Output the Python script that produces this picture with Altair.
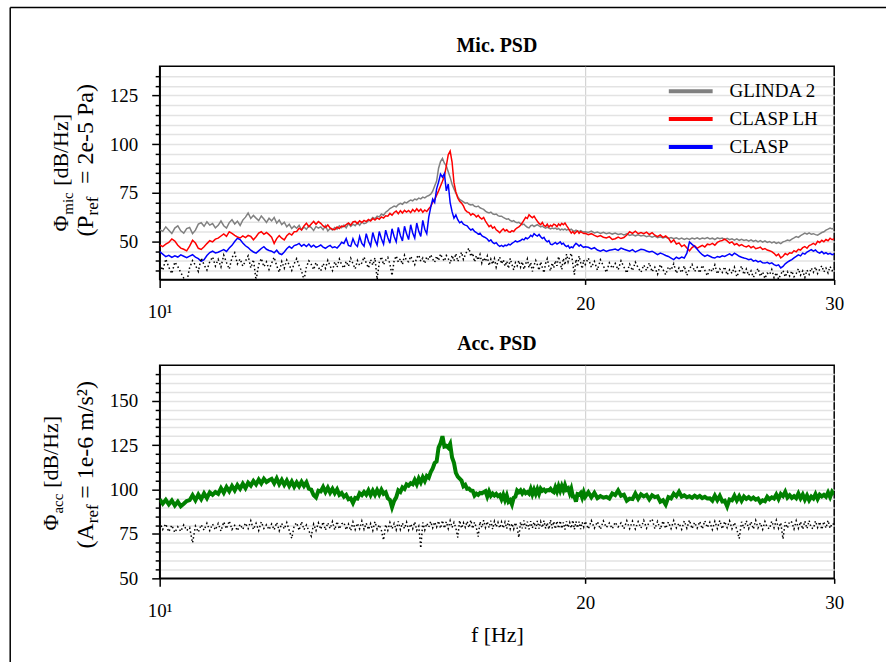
import altair as alt
import pandas as pd

FONT = "Liberation Serif"

# ---------------- data ----------------
# frequency grid [Hz]: 0.05 Hz steps from 10 to 19.95, 0.1 Hz steps from 20 to 30
freq_lo = [round(10 + 0.05 * i, 2) for i in range(200)]
freq_hi = [round(20 + 0.1 * i, 1) for i in range(101)]
freq = freq_lo + freq_hi

series_names = ["GLINDA 2", "CLASP LH", "CLASP"]
series_colors = ["#808080", "#ff0000", "#0000ff"]

glinda2_db = [
    56.0, 55.2, 57.5, 55.8, 54.1, 56.9, 58.0, 55.5, 54.3, 56.6,
    57.2, 54.0, 55.8, 58.9, 59.6, 57.8, 60.1, 58.4, 59.2, 57.0,
    58.3, 60.5, 58.1, 56.9, 59.7, 61.2, 59.0, 60.4, 58.2, 61.0,
    62.5, 64.6, 61.8, 63.4, 62.0, 60.7, 63.1, 61.5, 59.8, 61.9,
    60.6, 62.3, 59.4, 61.0, 58.7, 59.9, 57.5, 58.8, 56.6, 57.9,
    56.8, 58.3, 55.9, 57.4, 56.2, 58.0, 57.1, 55.6, 57.7, 56.9,
    57.5, 56.0, 58.1, 55.4, 56.7, 55.9, 57.2, 56.3, 58.0, 57.1,
    58.4, 57.0, 59.2, 57.8, 58.9, 58.1, 59.6, 58.3, 60.0, 59.1,
    59.5, 60.6, 61.0, 62.3, 61.7, 63.0, 62.6, 64.1, 63.5, 65.0,
    65.8, 66.9, 67.5, 68.2, 67.8, 69.0, 69.6, 69.1, 70.2, 69.8,
    70.6, 71.3, 70.9, 71.8, 71.4, 72.3, 71.9, 72.8, 72.4, 73.2,
    73.6, 74.3, 75.8, 78.5, 81.0, 87.6, 91.0, 92.7, 90.2, 88.8,
    85.8, 82.9, 79.4, 77.0, 74.8, 73.0, 71.6, 71.0, 70.3, 69.7,
    69.9, 69.1, 68.7, 69.0, 68.1, 67.8, 68.2, 67.3, 66.9, 66.5,
    65.6, 65.0, 64.7, 65.1, 64.2, 63.9, 64.1, 63.3, 62.9, 63.0,
    62.4, 61.9, 61.4, 61.6, 60.8, 60.3, 60.7, 59.9, 59.6, 59.8,
    59.2, 58.6, 58.9, 58.0, 57.3, 57.0, 58.1, 58.4, 57.7, 58.2,
    58.6, 58.0, 57.5, 57.9, 57.2, 56.8, 57.4, 56.9, 56.5, 56.9,
    56.6, 56.9, 56.2, 56.7, 55.9, 56.4, 56.0, 56.5, 55.8, 56.2,
    55.9, 56.3, 55.6, 55.2, 55.8, 55.4, 55.0, 55.6, 55.2, 54.9,
    55.0, 54.6, 55.3, 54.4, 54.9, 54.1, 54.7, 54.0, 54.5, 53.8,
    54.3, 53.6, 54.0, 53.3, 53.9, 53.1, 53.6, 52.9, 53.4, 52.8,
    53.2, 52.5, 52.9, 52.2, 52.8, 51.9, 52.4, 51.8, 52.3, 51.6,
    52.0, 51.4, 51.9, 51.2, 51.7, 51.0, 51.6, 51.1, 51.8, 51.3,
    51.9, 51.2, 51.8, 51.4, 52.0, 51.3, 51.7, 51.0, 51.9, 51.4,
    51.8, 51.1, 51.6, 50.9, 51.4, 50.7, 51.3, 50.6, 51.1, 50.5,
    50.9, 50.2, 50.8, 50.0, 50.6, 49.8, 50.4, 49.7, 50.3, 49.5,
    50.0, 49.3, 49.8, 49.0, 49.6, 48.9, 49.8, 50.2, 50.7, 50.4,
    51.2, 51.8, 52.5, 52.1, 53.0, 53.6, 54.3, 53.8, 54.4, 53.7,
    54.0, 53.5, 53.2, 53.9, 54.6, 55.0, 55.8, 56.3, 56.9, 56.4,
    57.0,
]

clasp_lh_db = [
    48.3, 47.4, 48.6, 49.5, 51.3, 50.2, 48.1, 46.6, 46.0, 45.2,
    47.6, 50.6, 49.2, 46.5, 45.9, 47.3, 48.9, 50.4, 49.8, 51.2,
    51.7, 52.8, 53.9, 52.6, 55.0, 54.2, 53.1, 52.3, 51.8, 52.9,
    52.0, 53.1, 52.6, 50.9, 52.4, 54.3, 55.0, 53.7, 54.6, 53.5,
    52.2, 49.0, 51.5, 53.0, 51.7, 50.8, 52.9, 54.1, 53.3, 55.0,
    55.1, 56.8, 55.9, 58.0, 59.4, 57.6, 59.0, 60.3, 58.8, 60.2,
    59.3, 58.0, 57.2, 58.5, 57.0, 56.3, 56.1, 57.4, 56.6, 57.9,
    57.6, 58.7, 59.5, 58.4, 60.0, 60.3, 59.2, 60.6, 59.7, 60.8,
    60.2, 61.3, 60.5, 61.8, 61.0, 62.1, 61.4, 62.6, 62.0, 63.2,
    63.0, 64.4, 63.5, 64.9, 65.6, 64.2, 65.8, 64.6, 66.0, 65.1,
    65.9, 64.8, 66.4, 65.3, 66.8, 65.5, 66.6, 65.0, 66.2, 65.4,
    66.8, 68.0, 70.2, 71.5, 73.8, 76.0, 78.5, 80.9, 83.5, 88.8,
    94.5, 96.4, 90.8, 80.2, 75.4, 72.3, 70.6, 69.7, 68.3, 66.1,
    65.2, 64.8, 63.5, 64.3, 63.7, 62.6, 63.4, 62.2, 61.5, 62.3,
    60.5, 59.0, 57.6, 58.3, 56.8, 57.5, 56.0, 55.3, 54.5, 55.6,
    56.5, 55.4, 56.0, 55.0, 54.8, 55.6, 55.1, 56.3, 57.0, 57.5,
    58.3, 59.6, 61.0, 62.4, 61.8, 63.7, 62.9, 62.2, 63.0, 61.6,
    60.4, 59.3, 58.6, 59.8, 58.2, 57.7, 58.9, 57.4, 58.3, 57.8,
    58.9, 58.5, 57.6, 59.0, 58.2, 59.3, 58.6, 59.5, 58.1, 57.0,
    55.6, 54.3, 55.1, 54.0, 54.8, 55.4, 54.2, 55.0, 54.5, 54.1,
    54.2, 53.5, 54.0, 53.1, 52.4, 53.0, 52.2, 51.8, 52.5, 51.0,
    51.4, 52.3, 51.5, 52.0, 53.3, 55.0, 54.2, 55.3, 54.0, 54.6,
    54.0, 54.8, 53.6, 54.5, 53.2, 52.5, 53.4, 52.1, 52.9, 51.7,
    49.6, 50.8, 48.7, 49.3, 47.4, 48.2, 46.6, 45.2, 46.9, 47.8,
    46.5, 47.3, 48.0, 47.2, 48.6, 48.3, 49.0, 48.1, 49.5, 50.2,
    50.5, 51.2, 50.3, 49.2, 49.8, 48.3, 48.9, 47.8, 48.4, 47.6,
    47.2, 47.9, 46.8, 47.5, 46.3, 46.6, 47.1, 45.9, 46.4, 45.6,
    45.2, 44.8, 43.9, 42.7, 43.5, 41.6, 42.4, 43.8, 43.1, 44.2,
    44.0, 45.3, 44.7, 46.0, 45.6, 46.8, 47.4, 46.5, 47.9, 48.4,
    49.0, 48.3, 50.1, 49.5, 50.6, 49.8, 51.0, 50.4, 51.7, 50.9,
    51.4,
]

clasp_db = [
    44.8, 43.5, 42.2, 42.9, 41.8, 42.6, 42.0, 43.1, 42.4, 41.7,
    42.5, 43.2, 42.0, 41.2, 39.8, 40.6, 42.8, 44.3, 45.0, 44.1,
    44.5, 45.2, 45.8, 44.9, 46.6, 48.0, 50.0, 51.6, 51.0, 49.2,
    47.8, 46.9, 45.5, 44.6, 44.0, 45.2, 46.4, 47.3, 46.0, 45.4,
    45.0, 44.2, 45.5, 43.8, 43.3, 44.6, 46.3, 47.4, 46.5, 47.9,
    48.3, 49.0, 47.6, 48.5, 47.4, 48.7, 47.2, 48.1, 47.0, 47.5,
    48.2, 47.1, 46.5, 47.4, 48.0, 46.8, 47.3, 46.6, 47.9, 49.6,
    49.0, 51.5, 48.0, 47.5, 51.4, 48.6, 47.4, 52.6, 49.0, 47.6,
    54.0, 50.1, 47.6, 54.6, 50.8, 48.2, 55.1, 51.4, 48.6, 55.8,
    52.0, 49.1, 56.5, 52.6, 49.8, 57.2, 53.1, 50.3, 57.8, 53.9,
    51.0, 58.6, 54.4, 51.8, 59.5, 55.2, 52.6, 60.8, 56.3, 54.0,
    62.5, 67.5, 71.8, 70.0, 77.0, 80.5, 84.6, 83.0, 84.8, 76.0,
    79.5, 70.0, 65.3, 62.0, 63.6, 61.2, 59.6, 60.2, 58.9, 58.4,
    58.0, 56.8, 55.9, 56.4, 55.2, 54.6, 53.8, 54.3, 53.0, 52.4,
    52.0, 51.3, 50.1, 50.8, 49.5, 48.9, 49.4, 48.2, 47.5, 48.0,
    47.4, 48.1, 47.8, 48.6, 48.2, 49.0, 49.6, 50.3, 49.8, 50.1,
    50.5, 51.2, 50.8, 51.9, 51.4, 52.0, 53.2, 52.5, 54.0, 53.3,
    52.8, 53.6, 52.4, 51.5, 52.1, 50.6, 49.8, 50.4, 48.6, 48.4,
    48.9, 49.5, 48.7, 49.2, 49.8, 48.6, 49.1, 48.0, 47.4, 47.9,
    46.6, 47.2, 46.8, 48.1, 49.1, 48.4, 47.6, 48.3, 47.5, 47.0,
    47.3, 47.0, 46.2, 46.8, 45.6, 45.0, 45.7, 44.9, 45.5, 45.8,
    46.1, 45.4, 46.6, 46.0, 45.5, 45.0, 45.8, 44.6, 45.3, 46.0,
    45.8, 45.1, 44.6, 45.0, 44.2, 43.2, 44.0, 43.5, 42.8, 42.3,
    41.5, 40.7, 41.9, 41.2, 42.0, 41.5, 44.0, 49.8, 48.5, 47.4,
    46.0, 44.5, 43.2, 42.3, 43.0, 42.4, 41.8, 41.5, 42.3, 41.9,
    42.6, 42.3, 43.0, 43.6, 42.8, 44.0, 43.2, 42.4, 41.9, 41.5,
    41.2, 40.6, 41.0, 39.9, 40.3, 39.5, 39.9, 39.0, 38.9, 39.3,
    38.6, 39.0, 38.1, 37.6, 38.0, 36.4, 37.2, 38.5, 39.4, 40.1,
    40.7, 41.6, 42.3, 43.1, 42.6, 44.0, 43.5, 44.6, 45.2, 45.8,
    45.0, 45.6, 44.5, 44.0, 44.8, 43.7, 44.3, 43.5, 43.9, 43.2,
    43.6,
]

mic_noise_db = [
    38.5, 35.2, 41.0, 36.8, 33.5, 39.4, 37.1, 34.0, 31.2, 29.0,
    36.5, 40.2, 37.8, 34.6, 41.5, 38.0, 35.3, 39.6, 42.1, 37.4,
    40.8, 36.9, 43.0, 39.2, 35.8, 41.7, 44.2, 38.5, 41.0, 37.3,
    39.9, 42.6, 36.4, 40.7, 30.0, 38.2, 41.3, 37.0, 39.5, 35.6,
    38.8, 41.9, 37.5, 34.2, 39.7, 36.3, 40.5, 37.9, 35.1, 38.6,
    41.2, 37.6, 34.8, 30.2, 36.9, 40.1, 38.3, 35.5, 39.2, 36.7,
    34.9, 38.7, 36.2, 40.3, 37.4, 35.0, 39.6, 36.8, 41.0, 38.1,
    36.3, 39.8, 37.2, 41.4, 38.6, 35.9, 40.2, 37.7, 39.0, 42.0,
    38.9, 36.4, 40.7, 37.8, 41.6, 30.5, 39.3, 42.2, 38.0, 40.4,
    41.8, 38.5, 32.5, 40.1, 42.6, 39.4, 41.1, 38.2, 42.9, 40.0,
    39.6, 42.4, 40.3, 38.1, 41.7, 43.0, 39.8, 41.5, 38.7, 42.1,
    40.6, 43.2, 41.0, 39.3, 42.5, 40.2, 43.6, 41.4, 39.9, 42.8,
    41.3, 38.6, 42.9, 40.1, 43.8, 39.7, 42.0, 44.5, 40.8, 43.1,
    45.2, 46.6, 42.3, 44.0, 39.5, 42.7, 40.4, 43.3, 38.9, 41.6,
    39.8, 42.5, 37.6, 40.9, 38.3, 41.2, 36.8, 39.7, 42.0, 38.5,
    40.6, 37.3, 39.9, 36.1, 41.3, 38.0, 35.4, 39.1, 37.5, 40.2,
    36.9, 39.6, 35.7, 38.4, 41.0, 36.5, 39.2, 34.6, 37.8, 40.3,
    38.0, 35.2, 39.5, 36.6, 33.9, 38.7, 41.1, 37.2, 34.8, 39.0,
    36.4, 40.2, 37.5, 42.3, 38.9, 35.6, 41.4, 37.9, 43.5, 39.6,
    42.1, 44.0, 38.4, 33.0, 40.8, 37.1, 42.6, 39.3, 36.0, 40.5,
    38.2, 41.5, 36.7, 39.8, 35.3, 40.6, 37.4, 34.1, 39.0, 36.2,
    38.7, 35.4, 40.1, 36.9, 33.8, 38.3, 35.0, 39.4, 36.5, 34.2,
    37.9, 35.1, 39.0, 34.4, 36.8, 33.2, 38.1, 35.6, 32.9, 37.0,
    35.3, 38.6, 33.7, 36.4, 34.0, 37.5, 32.6, 35.8, 38.2, 34.5,
    36.7, 33.9, 37.8, 35.2, 32.4, 36.1, 34.6, 38.0, 33.3, 35.9,
    34.1, 37.0, 32.8, 35.5, 33.6, 36.8, 31.9, 34.7, 37.4, 33.0,
    35.8, 32.5, 34.9, 31.6, 33.8, 36.2, 32.1, 34.4, 31.0, 33.7,
    32.9, 35.6, 31.4, 34.0, 30.6, 33.2, 35.1, 31.8, 34.5, 32.3,
    34.8, 31.9, 33.5, 36.0, 32.7, 34.9, 31.5, 35.3, 33.1, 36.4,
    34.2, 36.9, 33.6, 35.8, 37.5, 34.4, 36.3, 33.9, 37.1, 35.0,
    36.6,
]

acc_db = [
    94.5, 92.0, 94.2, 91.6, 93.8, 91.0, 93.2, 90.6, 92.0, 93.5,
    94.0, 96.8, 93.9, 97.2, 94.6, 97.8, 95.2, 98.4, 97.0, 98.6,
    97.6, 100.8, 98.2, 101.4, 99.0, 102.0, 99.5, 102.5, 100.4, 103.2,
    100.8, 103.8, 102.2, 104.8, 102.9, 105.6, 103.4, 106.0, 104.2, 105.2,
    106.0, 103.5, 106.3, 103.0, 105.4, 102.6, 105.0, 102.0, 104.5, 101.6,
    104.0, 101.8, 104.3, 102.0, 104.0, 100.4, 99.9, 96.8, 95.5, 99.3,
    98.9, 101.4, 98.6, 101.0, 98.2, 100.4, 97.9, 100.1, 97.0, 98.0,
    95.9, 97.0, 94.5, 95.0, 92.4, 95.3, 94.9, 97.9, 96.9, 98.6,
    97.1, 99.5, 96.8, 99.3, 97.0, 99.7, 97.3, 99.9, 97.6, 98.4,
    95.1, 94.2, 90.0, 93.6, 95.6, 99.5, 98.6, 101.2, 100.3, 102.9,
    102.2, 103.5, 102.9, 105.4, 103.0, 106.2, 104.0, 106.9, 104.8, 107.6,
    106.7, 109.8, 111.8, 114.9, 115.8, 123.6, 126.0, 130.0, 124.2, 124.6,
    123.5, 125.6, 118.0, 115.0, 109.4, 107.3, 106.2, 105.0, 101.8, 102.6,
    100.4, 100.5, 99.4, 99.3, 96.6, 97.7, 97.0, 98.1, 97.8, 98.5,
    99.1, 96.1, 98.9, 96.5, 97.7, 96.6, 97.5, 96.3, 96.9, 94.5,
    97.0, 94.1, 96.7, 93.1, 94.0, 91.6, 95.3, 95.9, 99.4, 98.5,
    99.5, 97.8, 99.2, 97.9, 98.6, 97.7, 100.3, 97.3, 99.9, 97.5,
    100.1, 97.6, 100.5, 99.3, 99.9, 98.9, 99.7, 99.5, 100.4, 99.1,
    98.5, 101.2, 98.9, 101.8, 99.3, 101.9, 99.6, 102.5, 99.9, 100.6,
    97.9, 100.4, 96.1, 96.1, 93.2, 97.4, 97.1, 98.0, 95.5, 98.4,
    95.9, 98.5, 95.6, 98.1, 95.1, 96.3, 95.4, 95.9, 94.9, 97.8,
    96.9, 99.5, 96.5, 97.1, 93.7, 94.9, 94.6, 97.7, 94.8, 97.3,
    96.1, 97.0, 94.5, 96.8, 95.7, 96.1, 93.1, 94.0, 91.5, 95.7,
    95.0, 97.7, 96.3, 98.7, 96.0, 96.7, 95.6, 96.2, 95.3, 96.5,
    95.5, 96.4, 95.2, 95.9, 94.9, 95.0, 93.7, 96.6, 94.0, 96.4,
    93.3, 93.7, 90.5, 94.4, 93.9, 96.5, 93.8, 96.2, 93.6, 96.0,
    94.7, 95.7, 94.5, 95.5, 94.3, 94.9, 92.7, 93.9, 93.4, 95.9,
    94.5, 95.6, 94.9, 97.2, 94.6, 97.5, 96.3, 98.7, 95.5, 96.8,
    95.3, 96.3, 95.1, 97.7, 95.0, 97.2, 94.3, 96.7, 94.0, 96.0,
    94.9, 97.4, 94.7, 97.1, 96.1, 97.0, 95.9, 98.3, 95.7, 98.7,
    97.2,
]

acc_noise_db = [
    81.8, 77.5, 80.6, 76.2, 79.9, 75.8, 79.0, 76.4, 80.1, 76.9,
    78.6, 70.0, 79.4, 76.0, 80.2, 77.1, 81.0, 76.9, 80.5, 77.3,
    80.9, 76.6, 81.8, 77.9, 82.3, 77.5, 79.8, 76.8, 80.4, 77.6,
    81.1, 78.0, 82.4, 77.5, 81.0, 76.9, 81.8, 78.1, 80.2, 77.4,
    80.6, 77.3, 81.5, 76.8, 80.9, 77.8, 81.4, 76.9, 72.5, 79.6,
    81.3, 77.0, 81.9, 77.4, 80.0, 76.8, 73.8, 80.5, 76.9, 81.2,
    77.6, 81.8, 77.1, 81.3, 78.0, 81.9, 77.2, 82.0, 77.8, 80.6,
    81.4, 77.3, 80.5, 76.8, 81.7, 77.5, 81.0, 77.9, 82.2, 77.6,
    81.0, 77.4, 80.8, 76.9, 81.9, 77.7, 80.2, 77.0, 71.5, 80.3,
    77.0, 81.4, 77.8, 80.9, 77.3, 82.0, 77.5, 81.1, 78.0, 81.6,
    77.2, 80.6, 77.9, 81.8, 77.0, 79.3, 67.0, 81.4, 77.2, 81.0,
    78.8, 82.0, 78.4, 81.7, 78.9, 82.3, 78.1, 82.6, 78.2, 81.9,
    78.0, 82.4, 78.6, 81.5, 78.3, 73.0, 82.6, 78.2, 81.3, 78.7,
    82.1, 78.5, 82.8, 78.0, 81.6, 78.4, 73.5, 81.9, 78.6, 82.7,
    78.6, 82.0, 78.5, 82.4, 77.7, 82.1, 78.9, 81.5, 78.3, 81.7,
    78.2, 81.6, 78.0, 82.5, 77.9, 80.9, 77.8, 81.4, 78.4, 73.0,
    81.8, 78.1, 82.6, 78.0, 81.9, 77.6, 82.2, 78.3, 81.7, 77.9,
    82.3, 78.0, 81.9, 78.6, 82.5, 78.1, 81.3, 77.6, 82.9, 78.2,
    82.0, 77.8, 82.3, 78.1, 82.4, 78.0, 81.5, 77.5, 82.1, 78.6,
    81.4, 78.2, 82.7, 77.5, 82.0, 78.4, 81.9, 77.7, 81.6, 78.9,
    82.1, 77.8, 82.5, 78.3, 81.9, 77.6, 82.3, 78.6, 81.1, 77.9,
    81.6, 78.9, 81.2, 77.9, 82.4, 78.0, 82.2, 77.8, 81.9, 78.3,
    82.6, 78.2, 81.8, 83.4, 77.9, 82.0, 77.6, 82.3, 78.1, 81.7,
    78.0, 82.5, 78.4, 81.0, 77.6, 82.3, 78.2, 82.8, 77.9, 81.5,
    78.3, 82.0, 77.8, 82.4, 78.6, 81.6, 77.5, 82.1, 78.0, 82.6,
    77.8, 82.0, 78.5, 82.3, 77.9, 81.4, 77.6, 72.4, 81.8, 78.1,
    82.4, 78.0, 81.9, 77.7, 82.6, 78.4, 81.2, 77.6, 82.0, 78.6,
    77.9, 82.2, 78.5, 82.7, 78.1, 81.3, 72.2, 81.7, 78.2, 82.1,
    81.6, 77.8, 82.4, 78.2, 81.9, 77.6, 82.2, 78.0, 82.5, 78.4,
    78.0, 82.3, 78.6, 81.8, 77.5, 82.0, 78.3, 82.6, 78.2, 81.0,
    80.3,
]

for arr in (glinda2_db, clasp_lh_db, clasp_db, mic_noise_db, acc_db, acc_noise_db):
    assert len(arr) == len(freq), len(arr)

# ---------------- frames ----------------
mic_df = pd.concat(
    [pd.DataFrame({"f": freq, "v": vals, "series": name})
     for name, vals in zip(series_names, [glinda2_db, clasp_lh_db, clasp_db])],
    ignore_index=True,
)
mic_noise_df = pd.DataFrame({"f": freq, "v": mic_noise_db})
acc_df = pd.DataFrame({"f": freq, "v": acc_db})
acc_noise_df = pd.DataFrame({"f": freq, "v": acc_noise_db})
one = pd.DataFrame({"a": [0]})

W, H = 677, 214
xscale = alt.Scale(type="log", domain=[10, 30], nice=False)


def x_axis(title):
    kw = dict(
        values=[10, 20, 30],
        labelExpr="datum.value == 10 ? '10\u00b9' : format(datum.value, 'd')",
        tickSize={"condition": {"test": "datum.value == 10", "value": 8}, "value": 5},
        labelPadding={"condition": {"test": "datum.value == 10", "value": 15}, "value": 10},
        labelFlush=False,
        labelOverlap=False,
        grid=True,
        gridOpacity={"condition": {"test": "datum.value == 20", "value": 1}, "value": 0},
        gridColor="#d4d4d4",
        gridWidth=1.2,
    )
    if title:
        kw.update(title=title, titleFontSize=22, titlePadding=4)
    else:
        kw.update(title=None)
    return alt.Axis(**kw)


def y_axis(vals, grid_test):
    return alt.Axis(
        values=vals,
        labelExpr="datum.value % 25 === 0 ? datum.label : ''",
        tickSize={"condition": {"test": "datum.value % 25 === 0", "value": 8}, "value": 4.5},
        labelPadding=14,
        labelOverlap=False,
        grid=True,
        gridOpacity={"condition": {"test": grid_test, "value": 1}, "value": 0},
        title=None,
    )


def txt(s, x, y, size, align="left"):
    return alt.Chart(one).mark_text(
        text=s, font=FONT, fontSize=size, angle=270, align=align,
        baseline="alphabetic", color="black",
    ).encode(x=alt.value(x), y=alt.value(y))


def heading(s, y):
    return alt.Chart(one).mark_text(
        text=s, font=FONT, fontSize=20, fontWeight="bold", align="center",
        baseline="alphabetic", color="black",
    ).encode(x=alt.value(W / 2), y=alt.value(y))


# ---------------- top panel: microphone ----------------
mic_x = alt.X("f:Q", scale=xscale, axis=x_axis(None))
mic_y = alt.Y("v:Q", scale=alt.Scale(domain=[30.5, 140], nice=False, zero=False),
              axis=y_axis(list(range(35, 140, 5)), "datum.value > 31"))

mic_lines = alt.Chart(mic_df).mark_line(strokeWidth=1.5, clip=True).encode(
    x=mic_x,
    y=mic_y,
    color=alt.Color(
        "series:N",
        sort=series_names,
        scale=alt.Scale(domain=series_names, range=series_colors),
        legend=alt.Legend(
            title=None, orient="none", legendX=509, legendY=11,
            symbolType="stroke", symbolSize=1936, symbolStrokeWidth=4,
            clipHeight=28, rowPadding=0,
            labelFont=FONT, labelFontSize=19, labelColor="black",
            labelOffset=15, padding=0, labelLimit=300,
        ),
    ),
)
mic_noise = alt.Chart(mic_noise_df).mark_line(
    color="black", strokeWidth=1.5, strokeDash=[1.5, 2.5], clip=True
).encode(x=mic_x, y=mic_y)

frame_top = alt.Chart(one).mark_rule(color="black", strokeWidth=1.5).encode(
    x=alt.value(-150), x2=alt.value(729), y=alt.value(-59))
frame_left = alt.Chart(one).mark_rule(color="black", strokeWidth=1.5).encode(
    x=alt.value(-150), y=alt.value(-59), y2=alt.value(598))

top = alt.layer(
    mic_lines, mic_noise,
    heading("Mic. PSD", -14),
    txt("\u03a6", -92, 166, 22),
    txt("mic", -87, 149, 15),
    txt("[dB/Hz]", -92, 48, 22, "right"),
    txt("(P", -67, 171, 24),
    txt("ref", -62, 149.7, 17),
    txt("= 2e-5 Pa)", -67, 18, 24, "right"),
    frame_top, frame_left,
).properties(width=W, height=H)

# ---------------- bottom panel: accelerometer ----------------
acc_x = alt.X("f:Q", scale=xscale, axis=x_axis("f [Hz]"))
acc_y = alt.Y("v:Q", scale=alt.Scale(domain=[50, 170], nice=False, zero=False),
              axis=y_axis(list(range(50, 170, 5)), "datum.value > 50"))

acc_line = alt.Chart(acc_df).mark_line(color="#008000", strokeWidth=4, clip=True).encode(
    x=acc_x, y=acc_y)
acc_noise = alt.Chart(acc_noise_df).mark_line(
    color="black", strokeWidth=1.5, strokeDash=[1.5, 2.5], clip=True
).encode(x=acc_x, y=acc_y)

bottom = alt.layer(
    acc_line, acc_noise,
    heading("Acc. PSD", -15),
    txt("\u03a6", -102, 166, 22),
    txt("acc", -97, 149, 15),
    txt("[dB/Hz]", -102, 51, 22, "right"),
    txt("(A", -67, 184, 24),
    txt("ref", -62, 158.7, 17),
    txt("= 1e-6 m/s\u00b2)", -67, 16, 24, "right"),
).properties(width=W, height=H)

chart = alt.vconcat(top, bottom, spacing=86, bounds="flush").properties(
    padding={"left": 8.25, "top": 4.25, "right": 0, "bottom": 0},
    background="white",
).configure_view(
    stroke="black", strokeWidth=1.5,
).configure_axis(
    domainColor="black", domainWidth=1.5,
    tickColor="black", tickWidth=1.5,
    labelFont=FONT, labelFontSize=19, labelColor="black",
    titleFont=FONT, titleColor="black", titleFontWeight="normal",
    gridColor="#e3e3e3", gridWidth=1.5,
)

chart.save("out.html", embed_options={"renderer": "svg", "actions": False})
